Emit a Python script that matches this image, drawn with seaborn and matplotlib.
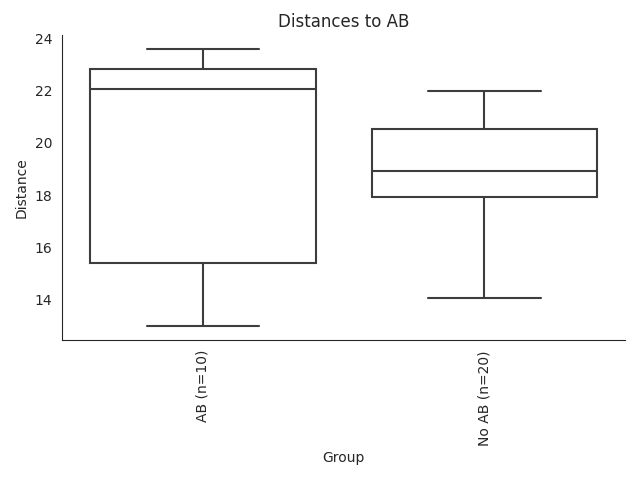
import matplotlib
matplotlib.use("Agg")
import matplotlib.pyplot as plt
import pandas as pd
import seaborn as sns

# Distance measurements per group
ab_distances = [12.98, 14.2, 15.1, 16.3, 21.72, 22.42, 22.6, 22.9, 23.3, 23.60]
no_ab_distances = [14.05, 15.6, 16.8, 17.4, 17.9, 17.94, 18.2, 18.5, 18.7, 18.88,
                   19.0, 19.4, 19.8, 20.1, 20.5, 20.62, 20.9, 21.3, 21.6, 21.98]
group_labels = ["AB (n=10)", "No AB (n=20)"]

df = pd.DataFrame({
    "Group": [group_labels[0]] * len(ab_distances) + [group_labels[1]] * len(no_ab_distances),
    "Distance": ab_distances + no_ab_distances,
})

sns.set_style("white")
fig, ax = plt.subplots(figsize=(6.4, 4.8), dpi=100)
sns.boxplot(data=df, x="Group", y="Distance", order=group_labels,
            color="white", linecolor="#3d3d3d", linewidth=1.5,
            width=0.8, ax=ax)
sns.despine(ax=ax)
ax.set_title("Distances to AB")
ax.tick_params(axis="x", labelrotation=90)
fig.subplots_adjust(left=0.097, right=0.977, top=0.927, bottom=0.291)
fig.savefig("out.png")
